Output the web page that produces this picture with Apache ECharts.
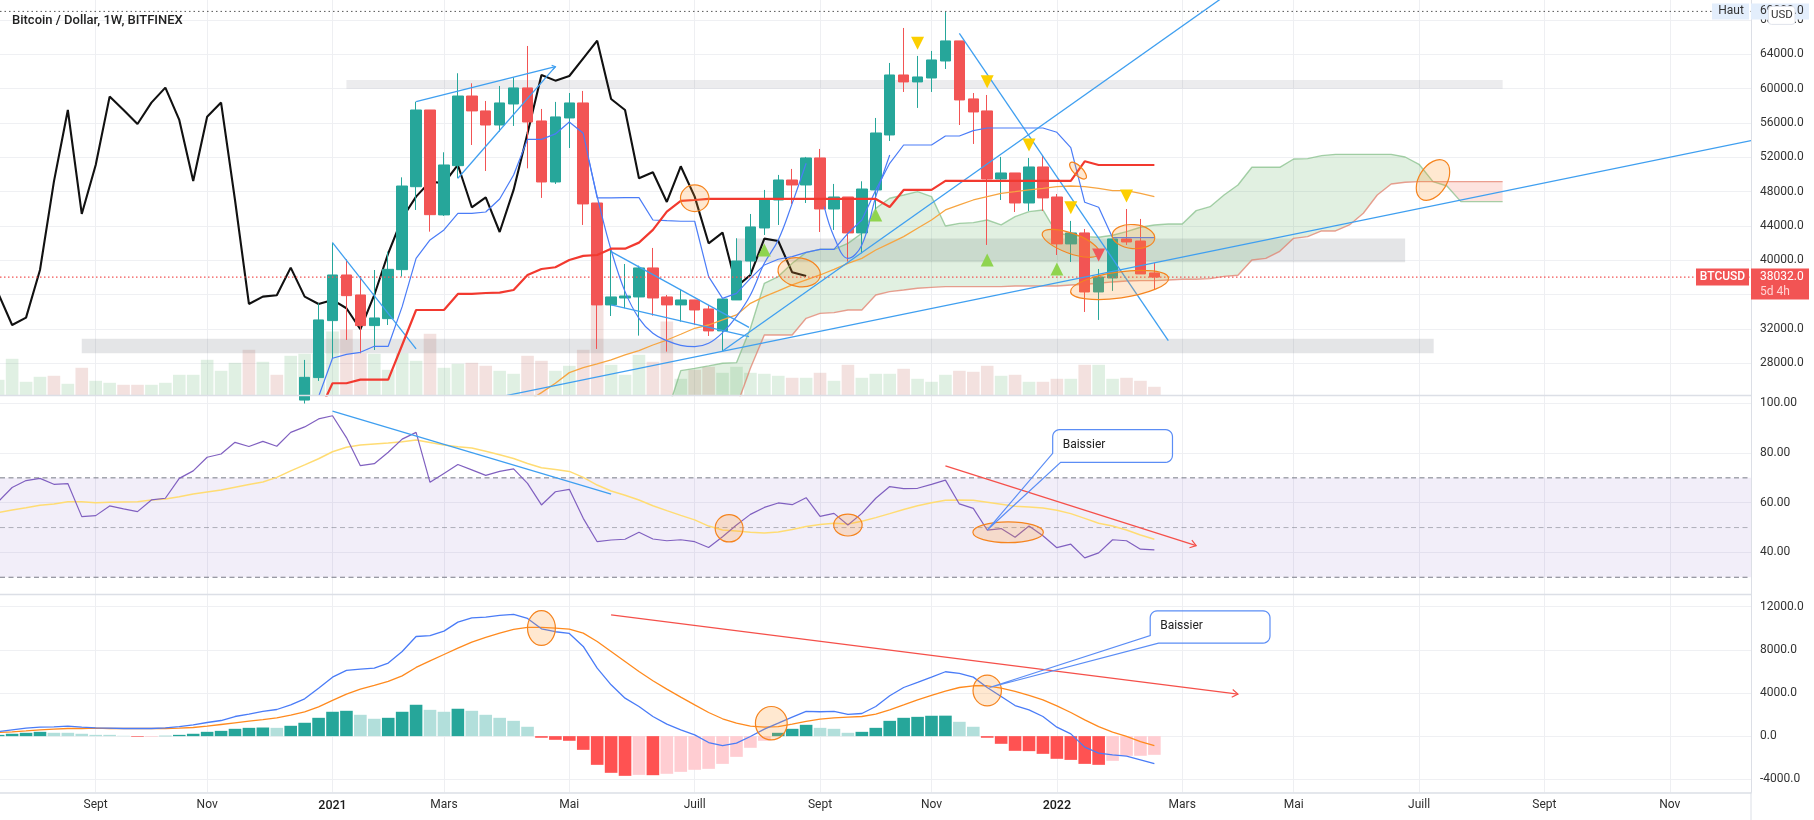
<!DOCTYPE html>
<html><head><meta charset="utf-8">
<style>html,body{margin:0;padding:0;background:#fff}#c{width:1814px;height:820px}</style>
<script src="https://cdn.jsdelivr.net/npm/echarts@6/dist/echarts.min.js"></script>
</head><body><div id="c"></div>
<script>
const FONT = 'Roboto,sans-serif';
const monthIdx = [7,15,24,32,41,50,59,67,76,85,93,102,111,120];
const monthNames = ['Sept','Nov','2021','Mars','Mai','Juill','Sept','Nov','2022','Mars','Mai','Juill','Sept','Nov'];
const priceTicks = [28000,32000,36000,40000,44000,48000,52000,56000,60000,64000,68000];
const rsiTicks = [40,60,80,100];
const macdTicks = [-4000,0,4000,8000,12000];

const candleStart = 22;
const candleOpen = [23700,26320,32960,38280,35950,32380,33190,38900,48570,57510,45280,51020,59140,57400,55760,58210,60080,56230,49120,56580,58330,46670,34790,35600,35720,39100,35720,34790,35370,34320,31760,35370,39910,43760,47020,49350,48770,51920,45970,47370,43180,48190,54600,61590,60780,61240,63220,65560,58800,57400,49470,50170,46670,50870,47370,41900,43180,36300,37930,42480,42240,38520];
const candleClose = [26350,33040,38280,35870,32380,33270,38940,48650,57510,45310,51100,59140,57400,55760,58330,60080,56110,49120,56700,58330,46560,34790,35720,35830,39100,35600,34790,35370,34200,31760,35480,39910,43880,47140,49350,48770,51920,45970,47370,43180,48300,54830,61590,60780,61360,63340,65560,58680,57280,49470,50170,46670,50870,47260,41900,43180,36300,38050,42480,42130,38400,38032];
const candleLow = [23300,25930,28570,30710,29150,29540,32450,38090,45860,43330,45160,49550,53430,50400,54990,55650,50710,47260,48890,53080,44110,29660,33500,34400,31210,33540,29350,32840,32450,31170,29420,35370,38280,42940,44110,46560,46670,43290,43530,39840,40810,45270,53900,59610,57750,59610,62290,55760,53550,41780,47020,45620,45740,45740,40610,39800,33970,33040,36420,41780,38400,36530];
const candleHigh = [28380,34980,42050,40110,38160,38860,41000,49660,58480,57510,52580,61790,60620,58560,60310,61320,64970,57630,58450,59490,59730,46670,41270,39560,39370,41430,35950,36650,35370,34790,35480,42560,45390,48190,49940,50640,52040,52970,48890,47370,49200,56580,62990,67070,63810,64390,69000,65560,59490,59260,52040,50170,51920,52150,47720,44580,43640,38980,42480,45970,44810,39680];

const volume = [15.7,36.7,13.7,18.7,19.7,11.7,27.7,14.7,12.7,10.7,10.7,10.7,12.7,20.7,20.7,35.7,24.7,32.7,45.7,33.7,20.7,39.7,41.7,41.7,64,65.7,42.3,41.7,25.7,42.3,34.7,61.7,27.7,31.7,32.7,29.7,24.7,21.7,39.7,34.7,24.7,29.7,45.7,99.7,30.7,20.7,40.7,33.7,74,16.7,25.7,28.7,22.7,28.7,22.7,21.7,19.7,17.7,17.7,22.7,14.7,30.7,17.7,21.7,21.7,26.7,16.7,13.7,20.7,24.7,23.7,29.7,19.7,20.7,13.7,13.7,16.7,16.7,30.7,30.7,16.7,17.7,14.7,8.7];
const volumeDownWeeks = [4,6,9,10,18,20,25,26,31,34,35,38,39,42,43,47,48,50,51,57,59,61,65,69,70,71,73,75,76,78,81,82,83];

const laggingClose = [36150,32450,33310,38860,49160,57510,45390,51100,59070,57510,55880,58370,60120,56350,49240,56730,58370,47020,34900,35760,35910,39140,35760,34900,35370,34400,31950,35950,40810,44890,47410,49160,48970,51100,46170,47330,43290,48190,54790,61590,60930,61470,63530,65590,58790,57510,49550,50250,46790,50950,47410,41970,43220,36920,38280,42520,42240,38590,38170];

const cloudStart = 48;
const spanA = [22160,27130,27400,27680,27990,28060,32070,37310,38090,39640,40920,41270,41270,41970,43140,46050,47220,47600,47990,47410,43990,44300,44380,44690,44110,45080,45660,45860,43140,42905,42750,42670,42905,43330,43840,44110,44230,44230,45780,46240,47600,48770,50830,50830,50830,51800,51840,52190,52340,52340,52340,52340,52340,52030,51180,49160,48650,46830,46830,46830,46830];
const spanB = [19800,19800,19800,19800,19800,22930,27400,31290,31290,31290,33230,33810,33890,34200,34200,35950,36340,36530,36730,36840,36920,36920,36920,36920,36920,37000,37000,37000,37000,37120,37200,37310,37470,37580,37620,37620,37700,37780,37780,37850,38120,38240,40030,40220,41040,42550,42750,43410,43410,44110,45470,47600,48880,49080,49160,49160,49160,49160,49160,49160,49160];

const baseStart = 23;
const kijun = [22160,25660,25660,26080,26080,26080,30120,34200,34200,34200,36070,36070,36180,36220,36530,38280,38980,39180,40030,40500,40610,41350,41350,42050,43530,45660,46910,47020,47140,47140,47140,47140,47140,47140,47140,47140,47140,47140,47140,47140,47140,46200,48190,48190,48190,49240,49240,49240,49240,49240,49240,49240,49240,49240,49240,51530,51100,51100,51100,51100,51100];
const tenkan = [24100,28570,29030,29270,29970,29970,34590,40220,42360,43530,45470,45470,45620,47140,49940,54090,54090,54720,56110,54790,47260,47260,47300,47300,44690,44610,44540,44540,38090,35560,36140,37890,39450,40110,40420,40920,41270,41270,43140,44690,48190,51300,53430,53430,53430,54480,54480,55100,55410,55410,55410,55410,55410,54910,53120,46750,46170,42630,42630,42630,42630];

const maStart = 38;
const movingAvg = [23520,24570,25660,26900,27480,27910,28375,28960,29460,30120,30700,31370,32070,32450,33040,33620,34980,35760,36420,37120,37700,38280,38940,39640,40220,41190,41970,42750,43720,44690,45860,46440,47020,47410,47800,47990,48190,48380,48580,48650,48580,48380,48110,48110,47800,47410];

const arcOne = [[42.4,51680],[43.18,46240],[44,41190],[45,36340],[46,33230],[47,31480],[48,30630],[49,30080],[50,29930],[51,30320],[52,31560],[53,33430],[54,35950],[55,39640],[56,42360],[57,46630],[58,51300]];
const arcTwo = [[59.3,46240],[60,42750],[61,40220],[62,41780],[63,47410],[64,52270]];

const rsi = [60.4,66.1,68.9,69.8,67.4,67.7,54.4,54.8,58.7,57.5,56.4,61.1,61.8,69.8,72.8,78.3,79.6,84.3,82.6,84.7,82.7,88.3,90.5,93.7,95.0,86.2,74.9,75.7,80.3,85.6,88.3,68.2,71.8,75.4,73.2,71.0,72.6,73.6,67.8,59.1,64.4,65.4,53.7,44.3,45.0,45.3,48.1,45.4,44.7,45.1,44.3,42.0,46.3,51.0,55.3,58.1,59.9,59.2,62.0,54.5,55.7,51.0,55.7,61.8,66.5,65.7,65.8,67.4,69.1,59.5,57.7,49.0,49.6,46.1,50.6,46.7,41.9,43.3,37.8,39.8,45.1,44.7,41.3,41.0];
const rsiMa = [56.0,57.1,58.0,59.0,59.5,60.4,60.4,60.0,60.2,60.3,60.4,61.1,61.5,62.4,63.5,64.3,65.1,66.2,67.3,68.3,70.2,72.8,75.2,77.7,80.5,82.3,83.2,83.6,84.0,84.5,85.2,84.2,83.2,82.5,82.0,80.7,79.3,77.8,75.8,74.1,73.4,72.6,70.2,67.1,64.7,63.0,61.1,58.8,56.8,54.9,53.1,50.6,49.0,48.6,48.1,47.8,48.2,49.2,50.4,51.2,51.7,51.4,52.5,54.0,55.6,57.3,58.8,60.0,61.0,61.1,61.0,60.2,59.4,58.6,58.3,57.9,57.0,55.6,53.7,51.7,50.6,49.0,47.0,45.3];

const macdLine = [430,590,740,830,860,925,830,770,740,710,710,710,770,890,1050,1265,1450,1820,2040,2290,2470,2900,3460,4450,5470,6090,6210,6300,6770,7850,9240,9310,9740,10570,10970,11040,11190,11280,10910,9950,9680,9520,8320,6300,4760,3520,2750,1820,1110,590,120,-590,-870,-650,-30,650,1200,1760,2290,2260,2290,2010,2100,2750,3740,4510,4980,5470,5970,5810,5470,4510,3680,2840,2440,1820,830,210,-1020,-1580,-1730,-1860,-2200,-2540];
const signalLine = [340,400,490,590,650,710,710,740,710,710,710,710,710,740,800,925,1080,1235,1390,1540,1700,1950,2260,2720,3310,3900,4360,4700,5070,5590,6370,6980,7570,8160,8720,9150,9550,9890,10080,10080,10020,9920,9550,8780,7850,6920,5990,5130,4360,3620,2900,2190,1610,1200,925,830,890,1110,1360,1575,1700,1760,1820,2040,2440,2900,3370,3770,4170,4510,4670,4670,4450,4140,3770,3370,2810,2190,1510,890,370,-30,-500,-870];
const macdHist = [120,220,310,400,310,310,220,120,120,30,-60,-60,30,120,220,400,490,680,770,800,770,960,1240,1700,2260,2350,1980,1610,1700,2260,2910,2440,2260,2540,2350,1980,1700,1420,870,-150,-340,-430,-1270,-2660,-3400,-3680,-3590,-3620,-3490,-3310,-3120,-3030,-2570,-1920,-1080,-430,310,680,1050,770,680,310,400,770,1420,1700,1790,1890,1900,1330,870,-150,-710,-1360,-1390,-1640,-2100,-2200,-2570,-2660,-2290,-1820,-1820,-1730];

const zones = [[25,61010,108,59990,.14],[6,30860,103.05,29150,.2],[53,42520,101,39760,.2]];
const rsiBand = [[-1,70,130,30,0]];
const blueMainLines = [[30,58480,40,62560,4],[33,49550,40,62560,0],[24,42050,30,29660,0],[44,41000,53.9,32180,0],[44,34785,53.9,31090,0],[52,29423,87.72,70410,0],[36.46,24220,125.83,53940,0],[69,66450,84,30630,0]];
const blueRsiLines = [[24,96.9,44,63.5,0]];
const redRsiLines = [[68,74.8,86,42.7,7]];
const redMacdLines = [[44,11250,89,3895,7]];
const mainEllipses = [[50,47220,1.02,1550,0],[57.5,38590,1.53,1670,10],[77.52,50440,.79,525,45],[77,41970,2.17,1165,20],[81.5,42750,1.53,1400,5],[80.5,37120,3.55,1515,-8],[103,49350,1.6,1630,-58]];
const rsiEllipses = [[52.47,49.7,1,5.5,0],[61,51,1.02,4.4,0],[72.5,48.1,2.53,4.2,0]];
const macdEllipses = [[39,10020,1,1610,0],[55.5,1200,1.14,1550,0],[71,4235,1.02,1420,0]];
const yellowMarks = [[66,65280],[71,60815],[74,53430],[77,46130],[81,47490]];
const greenMarks = [[55,41190],[63,45270],[71,40030],[76,38980]];
const redMarks = [[79,40610]];
const rsiCallout = [[75.7,89.4,84.3,76.25,71,49,79.87,76.27]];
const macdCallout = [[82.7,11620,91.3,8630,71.16,4510,9335,83.3]];
const calloutText = 'Baissier';
const lastPrice = 38032, highPrice = 69000;

const X0 = 0.13, X1 = 125.83;
const from = (s, arr) => arr.map((v, k) => [s + k, v]);
const GREEN = '#26a69a', RED = '#f25454';

const xAxisBase = (g, labels) => ({
  type:'value', gridIndex:g, min:X0, max:X1,
  axisLine:{show:labels, onZero:false, lineStyle:{color:'#dcdfe6',width:1.5}},
  axisTick:{show:false, customValues:monthIdx},
  splitLine:{show:true, lineStyle:{color:'#eeeff2',width:1}},
  axisLabel:{show:labels, customValues:monthIdx, margin:7, color:'#2e2e2e', fontFamily:FONT, fontSize:12,
    hideOverlap:false,
    formatter:v=>{const n=monthNames[monthIdx.indexOf(v)]; return /^20/.test(n)?'{b|'+n+'}':n;},
    rich:{b:{fontWeight:500,fontFamily:FONT,fontSize:12.5,color:'#1a1a1a'}}}
});
const yAxisBase = (g, min, max, ticks, dec) => ({
  type:'value', gridIndex:g, min, max, position:'right',
  axisLine:{show:true, onZero:false, lineStyle:{color:'#dcdfe6',width:1}},
  axisTick:{show:false, customValues:ticks},
  splitLine:{show:true, lineStyle:{color:'#eff0f3',width:1.2}},
  axisLabel:{customValues:ticks, margin:9, color:'#333', fontFamily:FONT, fontSize:12,
    formatter:v=>Number(v).toFixed(dec)}
});
const line = (name, g, data, color, width, z, extra) => Object.assign({
  name, type:'line', xAxisIndex:g, yAxisIndex:g, data, symbol:'none', z, silent:true,
  lineStyle:{color, width}, clip:true, animation:false
}, extra||{});

const rectSeries = (name, g, items, rgba, z) => ({
  name, type:'custom', xAxisIndex:g, yAxisIndex:g, z, silent:true, clip:true,
  encode:{x:[0,2],y:[1,3]}, data:items,
  renderItem:(p,api)=>{
    const a=api.coord([api.value(0),api.value(1)]), b=api.coord([api.value(2),api.value(3)]);
    const al=api.value(4);
    return {type:'rect',shape:{x:a[0],y:a[1],width:b[0]-a[0],height:b[1]-a[1]},
      style:{fill:al?('rgba(120,123,134,'+al+')'):rgba}};
  }
});
const segSeries = (name, g, items, color, z) => ({
  name, type:'custom', xAxisIndex:g, yAxisIndex:g, z, silent:true, clip:true,
  encode:{x:[0,2],y:[1,3]}, data:items,
  renderItem:(p,api)=>{
    const a=api.coord([api.value(0),api.value(1)]), b=api.coord([api.value(2),api.value(3)]);
    const kids=[{type:'line',shape:{x1:a[0],y1:a[1],x2:b[0],y2:b[1]},style:{stroke:color,lineWidth:1.3,fill:null}}];
    const L=api.value(4);
    if(L){
      const t=Math.atan2(b[1]-a[1],b[0]-a[0]),s=.6;
      kids.push({type:'polyline',shape:{points:[[b[0]-L*Math.cos(t-s),b[1]-L*Math.sin(t-s)],b,[b[0]-L*Math.cos(t+s),b[1]-L*Math.sin(t+s)]]},style:{stroke:color,lineWidth:1.2,fill:null}});
    }
    return {type:'group',children:kids};
  }
});
const ellipseSeries = (name, g, items, z) => ({
  name, type:'custom', xAxisIndex:g, yAxisIndex:g, z, silent:true, clip:true,
  encode:{x:0,y:1}, data:items,
  renderItem:(p,api)=>{
    const c=api.coord([api.value(0),api.value(1)]);
    const rx=api.size([api.value(2),0])[0], ry=api.size([0,api.value(3)])[1];
    return {type:'ellipse',x:c[0],y:c[1],rotation:-api.value(4)*Math.PI/180,
      shape:{cx:0,cy:0,rx,ry},style:{fill:'rgba(255,152,40,.22)',stroke:'#f5841f',lineWidth:1.2}};
  }
});
const calloutSeries = (name, g, items, z) => ({
  name, type:'custom', xAxisIndex:g, yAxisIndex:g, z, silent:true, clip:false,
  encode:{x:[0,2],y:[1,3]}, data:items,
  renderItem:(p,api)=>{
    const a=api.coord([api.value(0),api.value(1)]), b=api.coord([api.value(2),api.value(3)]);
    const tip=api.coord([api.value(4),api.value(5)]);
    const jy=api.coord([api.value(0),api.value(6)])[1], jx=api.coord([api.value(7),api.value(3)])[0];
    const r=7,x0=a[0],y0=a[1],x1=b[0],y1=b[1],pts=[tip,[x0,jy],[x0,y0+r]];
    const arc=(cx,cy,s)=>{for(let k=1;k<=6;k++){const t=s+k*Math.PI/12;pts.push([cx+r*Math.cos(t),cy+r*Math.sin(t)]);}};
    arc(x0+r,y0+r,Math.PI); pts.push([x1-r,y0]); arc(x1-r,y0+r,-Math.PI/2); pts.push([x1,y1-r]); arc(x1-r,y1-r,0); pts.push([jx,y1]);
    return {type:'group',children:[
      {type:'polygon',shape:{points:pts},style:{fill:'rgba(255,255,255,0)',stroke:'#5b8df5',lineWidth:1.2}},
      {type:'text',style:{text:calloutText,x:x0+10,y:(y0+y1)/2-1,align:'left',verticalAlign:'middle',fill:'#222',font:'12px '+FONT}}
    ]};
  }
});
const triangle = (name, data, color, down) => ({
  name, type:'scatter', xAxisIndex:0, yAxisIndex:0, data, z:8, silent:true, clip:true,
  symbol:'triangle', symbolRotate:down?180:0, symbolSize:[13,13], itemStyle:{color,opacity:1}
});

const cloudSeries = {
  name:'cloud', type:'custom', xAxisIndex:0, yAxisIndex:0, z:3, silent:true, clip:true,
  encode:{x:0,y:1}, data:[[cloudStart,spanA[0]]],
  renderItem:(p,api)=>{
    const cross=103-cloudStart;
    const poly=(i0,i1)=>{const pts=[];for(let k=i0;k<=i1;k++)pts.push(api.coord([cloudStart+k,spanA[k]]));for(let k=i1;k>=i0;k--)pts.push(api.coord([cloudStart+k,spanB[k]]));return pts;};
    return {type:'group',children:[
      {type:'polygon',shape:{points:poly(0,cross)},style:{fill:'rgba(67,160,71,.16)'}},
      {type:'polygon',shape:{points:poly(cross,spanA.length-1)},style:{fill:'rgba(244,80,54,.16)'}}
    ]};
  }
};
const tagSeries = {
  name:'tags', type:'custom', xAxisIndex:0, yAxisIndex:0, z:20, silent:true, clip:false,
  encode:{x:0,y:1}, data:[[X1,lastPrice]],
  renderItem:(p,api)=>{
    const R=api.coord([X1,lastPrice]), H=api.coord([X1,highPrice]);
    const x=R[0], y=R[1], hy=H[1];
    return {type:'group',children:[
      {type:'rect',shape:{x:x-39,y:hy-8,width:37,height:16},style:{fill:'#e3eefc'}},
      {type:'text',style:{text:'Haut',x:x-20,y:hy,align:'center',verticalAlign:'middle',fill:'#333',font:'12px '+FONT}},
      {type:'rect',shape:{x:x,y:hy-8,width:58,height:16},style:{fill:'#e3eefc'}},
      {type:'text',style:{text:'69000.0',x:x+9,y:hy,align:'left',verticalAlign:'middle',fill:'#333',font:'12px '+FONT}},
      {type:'rect',shape:{x:x+17.5,y:hy-5,width:26.5,height:18,r:3},style:{fill:'#fff',stroke:'#e0e3eb',lineWidth:1}},
      {type:'text',style:{text:'USD',x:x+31,y:hy+4,align:'center',verticalAlign:'middle',fill:'#333',font:'11.5px '+FONT}},
      {type:'rect',shape:{x:x-55,y:y-8.5,width:53,height:17},style:{fill:RED}},
      {type:'text',style:{text:'BTCUSD',x:x-28.5,y:y,align:'center',verticalAlign:'middle',fill:'#fff',font:'500 12px '+FONT}},
      {type:'rect',shape:{x:x,y:y-8.5,width:58,height:31},style:{fill:RED}},
      {type:'text',style:{text:lastPrice.toFixed(1),x:x+9,y:y,align:'left',verticalAlign:'middle',fill:'#fff',font:'12px '+FONT}},
      {type:'text',style:{text:'5d 4h',x:x+9,y:y+15,align:'left',verticalAlign:'middle',fill:'#ffd5d5',font:'12px '+FONT}}
    ]};
  }
};

const lastRsiSeg = (g, v, color, dash, w) => line('level'+v, g, [[X0,v],[X1,v]], color, w||1, 3, {lineStyle:{color,width:w||1,type:dash}});

const option = {
  animation:false,
  backgroundColor:'#fff',
  title:{text:'Bitcoin / Dollar, 1W, BITFINEX', left:7, top:9, textStyle:{fontFamily:FONT,fontSize:13,fontWeight:500,color:'#222'}},
  grid:[
    {left:0,top:0,width:1751,height:395.5},
    {left:0,top:395.5,width:1751,height:199},
    {left:0,top:594.5,width:1751,height:197.8}
  ],
  xAxis:[xAxisBase(0,false),xAxisBase(1,false),xAxisBase(2,true)],
  yAxis:[
    yAxisBase(0,24233,70329,priceTicks,1),
    yAxisBase(1,23.06,103.14,rsiTicks,2),
    yAxisBase(2,-5206,13132,macdTicks,1),
    {type:'value',gridIndex:0,min:0,max:395.5,show:false,splitLine:{show:false}}
  ],
  graphic:[
    {type:'line',shape:{x1:0,y1:395.5,x2:1751,y2:395.5},style:{stroke:'#dcdfe6',lineWidth:1.5},z:10,silent:true},
    {type:'line',shape:{x1:0,y1:594.5,x2:1751,y2:594.5},style:{stroke:'#dcdfe6',lineWidth:1.5},z:10,silent:true},
    {type:'line',shape:{x1:1751,y1:792,x2:1751,y2:820},style:{stroke:'#dcdfe6',lineWidth:1},z:10,silent:true}
  ],
  series:[
    {name:'volume',type:'bar',xAxisIndex:0,yAxisIndex:3,z:1,barWidth:12.6,silent:true,
      data:volume.map((v,i)=>({value:[i,v],itemStyle:{color:volumeDownWeeks.includes(i)?'rgba(190,90,80,.18)':'rgba(83,170,100,.18)'}}))},
    rectSeries('zones',0,zones,'',2),
    line('lagging',0,from(0,laggingClose),'#111',2.1,3),
    cloudSeries,
    line('spanA',0,from(cloudStart,spanA),'rgba(120,185,125,.65)',1.4,3),
    line('spanB',0,from(cloudStart,spanB),'rgba(225,120,100,.7)',1.4,3),
    {name:'price',type:'candlestick',xAxisIndex:0,yAxisIndex:0,z:4,barWidth:11,silent:true,
      data:candleOpen.map((o,k)=>[candleStart+k,o,candleClose[k],candleLow[k],candleHigh[k]]),
      itemStyle:{color:GREEN,color0:RED,borderColor:GREEN,borderColor0:RED,borderWidth:1}},
    line('movingAvg',0,from(maStart,movingAvg),'#f7a541',1.3,5),
    line('tenkan',0,from(baseStart,tenkan),'#4a7cf7',1.2,5),
    line('kijun',0,from(baseStart,kijun),'#f2392f',2.2,6),
    line('arcOne',0,arcOne,'#4a7cf7',1.2,5,{smooth:.4}),
    line('arcTwo',0,arcTwo,'#4a7cf7',1.2,5,{smooth:.4}),
    segSeries('blueMain',0,blueMainLines,'#3f9ff0',6),
    ellipseSeries('ellMain',0,mainEllipses,7),
    triangle('yellow',yellowMarks,'#fccf00',true),
    triangle('green',greenMarks,'#8fd44f',false),
    triangle('red',redMarks,'#f0585a',true),
    line('lastPrice',0,[[X0,lastPrice],[X1,lastPrice]],RED,1,5,{lineStyle:{color:RED,width:1.1,type:[1.5,2.5]}}),
    line('allHigh',0,[[X0,highPrice],[X1,highPrice]],'#555',1,5,{lineStyle:{color:'#555',width:1,type:[1.5,3]}}),
    tagSeries,

    rectSeries('rsiBand',1,rsiBand,'rgba(126,87,194,.1)',1),
    lastRsiSeg(1,70,'#787b86',[5,3.5]),
    lastRsiSeg(1,30,'#787b86',[5,3.5]),
    lastRsiSeg(1,50,'rgba(120,123,134,.55)',[5,3.5]),
    line('rsiMa',1,from(0,rsiMa),'#ffdc73',1.5,4),
    line('rsi',1,from(0,rsi),'#8060c0',1.2,5),
    segSeries('blueRsi',1,blueRsiLines,'#3f9ff0',6),
    segSeries('redRsi',1,redRsiLines,'#f5504a',6),
    ellipseSeries('ellRsi',1,rsiEllipses,7),
    calloutSeries('calloutRsi',1,rsiCallout,8),

    {name:'hist',type:'bar',xAxisIndex:2,yAxisIndex:2,z:2,barWidth:12.6,silent:true,
      data:macdHist.map((v,i)=>{
        const p=i?macdHist[i-1]:-1e9;
        const c=v>=0?(v>p?GREEN:'#b2dfdb'):(v<p?'#ff5252':'#ffcdd2');
        return {value:[i,v],itemStyle:{color:c}};
      })},
    line('signal',2,from(0,signalLine),'#ff8a1e',1.3,5),
    line('macd',2,from(0,macdLine),'#4a7cf7',1.3,5),
    segSeries('redMacd',2,redMacdLines,'#f5504a',6),
    ellipseSeries('ellMacd',2,macdEllipses,7),
    calloutSeries('calloutMacd',2,macdCallout,8)
  ]
};
echarts.init(document.getElementById('c'),null,{width:1814,height:820,renderer:'canvas'}).setOption(option);
</script></body></html>
